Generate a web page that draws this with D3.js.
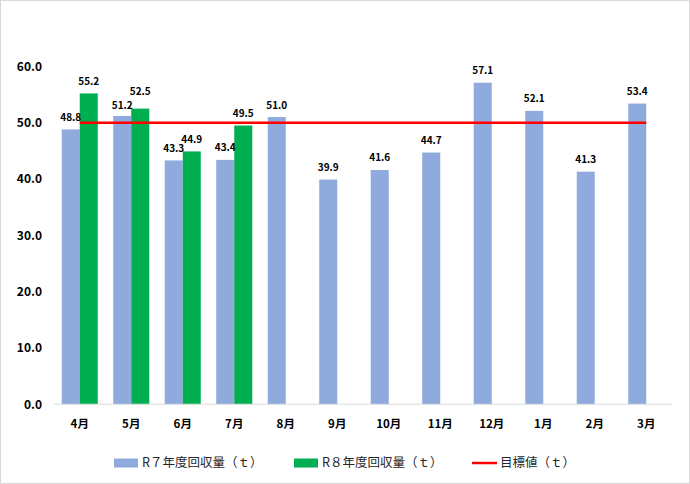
<!DOCTYPE html>
<html>
<head>
<meta charset="utf-8">
<script src="https://cdn.jsdelivr.net/npm/d3@7"></script>
<style>
  body { margin: 0; background: #fff; }
  text { font-family: "Noto Sans CJK JP", "Noto Sans", sans-serif; }
</style>
</head>
<body>
<svg id="chart" width="690" height="484"></svg>
<script>
// chart data
var months = ["4月", "5月", "6月", "7月", "8月", "9月", "10月", "11月", "12月", "1月", "2月", "3月"];
var r7Values = [48.8, 51.2, 43.3, 43.4, 51.0, 39.9, 41.6, 44.7, 57.1, 52.1, 41.3, 53.4];
var r8Values = [55.2, 52.5, 44.9, 49.5, null, null, null, null, null, null, null, null];
var targetValue = 50;
var yTicks = [0, 10, 20, 30, 40, 50, 60];
var seriesNames = ["R７年度回収量（ｔ）", "R８年度回収量（ｔ）", "目標値（ｔ）"];

var colors = { r7: "#8FAADC", r8: "#00B050", target: "#FF0000" };

function drawChart() {
  var svg = d3.select("#chart");
  var width = +svg.attr("width");
  var height = +svg.attr("height");

  var margin = { top: 66.4, right: 18, bottom: 80, left: 54 };

  // outer chart border
  svg.append("rect")
    .attr("x", 0.5).attr("y", 0.5)
    .attr("width", width - 1).attr("height", height - 1)
    .attr("fill", "#fff")
    .attr("stroke", "#D9D9D9");

  var x = d3.scaleBand()
    .domain(months)
    .range([margin.left, width - margin.right])
    .paddingInner(0.3)
    .paddingOuter(0.15);

  var x1 = d3.scaleBand()
    .domain(["r7", "r8"])
    .range([0, x.bandwidth()]);

  var y = d3.scaleLinear()
    .domain([0, 60])
    .range([404.2, margin.top]);

  // y tick labels
  var yAxis = d3.axisLeft(y)
    .tickValues(yTicks)
    .tickFormat(d3.format(".1f"))
    .tickSize(0)
    .tickPadding(12);

  var yg = svg.append("g")
    .attr("transform", "translate(" + margin.left + ",0)")
    .call(yAxis);
  yg.select(".domain").remove();
  yg.selectAll("text")
    .style("font-size", "12px")
    .style("font-weight", "bold")
    .attr("fill", "#000");

  // bars
  var groups = svg.append("g").classed("bars-container", true)
    .selectAll("g")
    .data(months)
    .join("g")
    .attr("transform", function(d) { return "translate(" + x(d) + ",0)"; });

  var barData = function(d, i) {
    return [
      { key: "r7", value: r7Values[i], month: d },
      { key: "r8", value: r8Values[i], month: d }
    ].filter(function(b) { return b.value != null; });
  };

  groups.selectAll("rect")
    .data(barData)
    .join("rect")
    .attr("x", function(d) { return x1(d.key); })
    .attr("width", x1.bandwidth())
    .attr("y", function(d) { return y(d.value); })
    .attr("height", function(d) { return y(0) - y(d.value); })
    .attr("fill", function(d) { return colors[d.key]; });

  // baseline
  svg.append("line")
    .attr("x1", margin.left).attr("x2", width - margin.right)
    .attr("y1", y(0)).attr("y2", y(0))
    .attr("stroke", "#D9D9D9")
    .attr("stroke-width", 1);

  // target line
  var line = d3.line()
    .x(function(d) { return x(d) + x.bandwidth() / 2; })
    .y(function() { return y(targetValue); });

  svg.append("path")
    .datum(months)
    .attr("d", line)
    .attr("fill", "none")
    .attr("stroke", colors.target)
    .attr("stroke-width", 2.5);

  // data labels (the 5月 pair was moved apart by hand in the original)
  var nudge = function(d) {
    if (d.month === "5月") return d.key === "r8" ? -5 : 2;
    return 0;
  };

  groups.selectAll("text.val")
    .data(barData)
    .join("text")
    .classed("val", true)
    .attr("x", function(d) { return x1(d.key) + x1.bandwidth() / 2; })
    .attr("y", function(d) { return y(d.value) - 8.5 + nudge(d); })
    .attr("text-anchor", "middle")
    .style("font-size", "10px")
    .style("font-weight", "bold")
    .attr("fill", "#000")
    .text(function(d) { return d.value.toFixed(1); });

  // x labels
  var xAxis = d3.axisBottom(x).tickSize(0).tickPadding(0);
  var xg = svg.append("g")
    .attr("transform", "translate(0," + y(0) + ")")
    .call(xAxis);
  xg.select(".domain").remove();
  xg.selectAll("text")
    .attr("y", 20)
    .attr("dy", "0.35em")
    .style("font-size", "11.5px")
    .style("font-weight", "bold")
    .attr("fill", "#000");

  // legend
  var legendY = 463;
  var legend = svg.append("g").classed("legend", true);
  var items = [
    { name: seriesNames[0], x: 114, type: "rect", color: colors.r7 },
    { name: seriesNames[1], x: 294, type: "rect", color: colors.r8 },
    { name: seriesNames[2], x: 472, type: "line", color: colors.target }
  ];
  items.forEach(function(it) {
    if (it.type === "rect") {
      legend.append("rect")
        .attr("x", it.x).attr("y", legendY - 4.5)
        .attr("width", 24).attr("height", 9)
        .attr("fill", it.color);
    } else {
      legend.append("line")
        .attr("x1", it.x).attr("x2", it.x + 25)
        .attr("y1", legendY).attr("y2", legendY)
        .attr("stroke", it.color)
        .attr("stroke-width", 2.5);
    }
    legend.append("text")
      .attr("x", it.x + 28)
      .attr("y", legendY)
      .attr("dy", "0.35em")
      .style("font-size", "12.5px")
      .attr("fill", "#262626")
      .text(it.name);
  });
}

drawChart();
</script>
</body>
</html>
